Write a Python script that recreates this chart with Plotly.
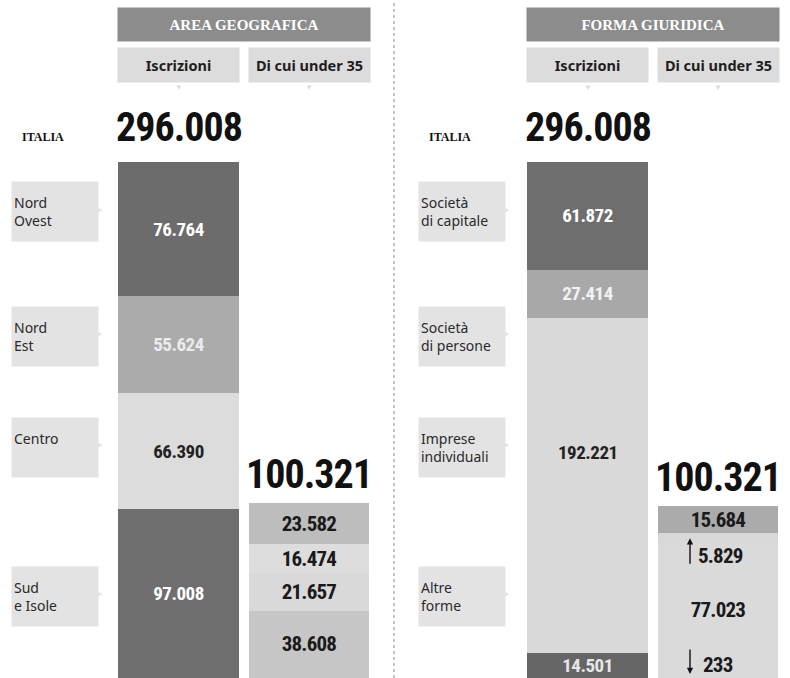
import plotly.graph_objects as go

# ---------------- data ----------------
columns = ["Iscrizioni", "Di cui under 35"]
italia_total = 296008
italia_u35 = 100321

panel_titles = ["AREA GEOGRAFICA", "FORMA GIURIDICA"]

region_labels = ["Nord<br>Ovest", "Nord<br>Est", "Centro<br> ", "Sud<br>e Isole"]
region_total = [76764, 55624, 66390, 97008]
region_u35 = [23582, 16474, 21657, 38608]

form_labels = ["Società<br>di capitale", "Società<br>di persone", "Imprese<br>individuali", "Altre<br>forme"]
form_total = [61872, 27414, 192221, 14501]
form_u35 = [15684, 5829, 77023, 233]

# ---------------- style ----------------
NUM_FONT = "Roboto Condensed, DejaVu Sans Condensed, Liberation Sans Narrow, sans-serif"
LBL_FONT = "Noto Sans, Open Sans, sans-serif"

W, H = 790, 678
bar_top_px = 162
ydom_top = (H - bar_top_px) / H

left_dom = [113.25 / W, 374.25 / W]
right_dom = [522.25 / W, 783.25 / W]

LABEL_BOX = "#e3e3e3"
SUB_BOX = "#dcdcdc"

panels = [
    dict(xaxis="x", dom=left_dom, labels=region_labels, total=region_total, u35=region_u35,
         main_colors=["#6c6c6c", "#ababab", "#dcdcdc", "#6e6e6e"],
         main_text=["#ffffff", "#ececec", "#222222", "#ffffff"],
         u35_colors=["#bdbdbd", "#dddddd", "#d9d9d9", "#c6c6c6"],
         label_x=11),
    dict(xaxis="x2", dom=right_dom, labels=form_labels, total=form_total, u35=form_u35,
         main_colors=["#6e6e6e", "#a8a8a8", "#d9d9d9", "#666666"],
         main_text=["#ffffff", "#f2f2f2", "#222222", "#e6e6e6"],
         u35_colors=["#ababab", "#d8d8d8", "#dadada", "#d8d8d8"],
         label_x=418),
]


def fmt(v):
    return f"{v:,}".replace(",", ".")


def tight(s, ls):
    return f"<span style='letter-spacing:{ls}px'>{s}</span>"


fig = go.Figure()
annotations = []

for p_i, p in enumerate(panels):
    xa = p["xaxis"]
    # main bar (stack bottom-up, so reverse order)
    for i in reversed(range(4)):
        v = p["total"][i]
        show_inside = not (p_i == 1 and i == 2)
        fig.add_trace(go.Bar(
            x=[columns[0]], y=[v], xaxis=xa, yaxis="y",
            marker=dict(color=p["main_colors"][i], line=dict(width=0)),
            text=[tight(fmt(v), -0.5) if show_inside else ""], textposition="inside",
            insidetextanchor="middle", textangle=0, constraintext="none",
            textfont=dict(family=NUM_FONT, size=19, color=p["main_text"][i], weight="bold"),
            showlegend=False, hoverinfo="skip"))
    # under 35 bar
    for i in reversed(range(4)):
        v = p["u35"][i]
        tiny = p_i == 1 and i in (1, 3)
        fig.add_trace(go.Bar(
            x=[columns[1]], y=[v], xaxis=xa, yaxis="y",
            marker=dict(color=p["u35_colors"][i], line=dict(width=0)),
            text=["" if tiny else tight(fmt(v), -0.8)], textposition="inside",
            insidetextanchor="middle", textangle=0, constraintext="none",
            textfont=dict(family=NUM_FONT, size=21, color="#1a1a1a", weight="bold"),
            showlegend=False, hoverinfo="skip"))

    # big totals
    annotations.append(dict(x=columns[0], y=italia_total, xref=xa, yref="y",
                            text=f"<b>{tight(fmt(italia_total), -1)}</b>", showarrow=False,
                            yanchor="bottom", yshift=9,
                            font=dict(family=NUM_FONT, size=40, color="#111111")))
    annotations.append(dict(x=columns[1], y=sum(p["u35"]), xref=xa, yref="y",
                            text=f"<b>{tight(fmt(italia_u35), -1)}</b>", showarrow=False,
                            yanchor="bottom", yshift=3,
                            font=dict(family=NUM_FONT, size=40, color="#111111")))

    # header box
    cx = (p["dom"][0] + p["dom"][1]) / 2
    annotations.append(dict(x=cx, y=1 - 24.5 / H, xref="paper", yref="paper",
                            xanchor="center", yanchor="middle",
                            text=f"<b>{panel_titles[p_i]}</b>", showarrow=False,
                            width=248, height=29, bgcolor="#8c8c8c", borderpad=2,
                            font=dict(family="Liberation Serif, DejaVu Serif, serif", size=15,
                                      color="#ffffff")))
    # sub-header boxes with small pointer below
    for c in columns:
        annotations.append(dict(x=c, y=1 - 65 / H, xref=xa, yref="paper",
                                xanchor="center", yanchor="middle",
                                text=f"<b>{c}</b>", showarrow=False,
                                width=117, height=30, bgcolor=SUB_BOX, borderpad=2,
                                font=dict(family=LBL_FONT, size=14.5, color="#1e1e1e")))
        annotations.append(dict(x=c, y=1 - 86 / H, xref=xa, yref="paper",
                                xanchor="center", yanchor="middle", text="▼", showarrow=False,
                                font=dict(size=8, color=SUB_BOX)))

    # ITALIA
    annotations.append(dict(x=(p["label_x"] + 9) / W, y=1 - 137 / H, xref="paper", yref="paper",
                            text="<b>ITALIA</b>", showarrow=False, xanchor="left", yanchor="middle",
                            font=dict(family="Liberation Serif, DejaVu Serif, serif", size=12,
                                      color="#111111")))

    # category label boxes with small pointer on the right
    slot_centers = [212, 336, 447, 596]
    for i, lab in enumerate(p["labels"]):
        annotations.append(dict(x=p["label_x"] / W, y=1 - slot_centers[i] / H,
                                xref="paper", yref="paper", xanchor="left", yanchor="middle",
                                text=lab, showarrow=False, align="left",
                                width=82, height=55, bgcolor=LABEL_BOX, borderpad=2,
                                font=dict(family=LBL_FONT, size=14, color="#2a2a2a")))
        annotations.append(dict(x=(p["label_x"] + 84) / W, y=1 - (slot_centers[i] - 3) / H,
                                xref="paper", yref="paper", xanchor="left", yanchor="middle",
                                text="▶", showarrow=False,
                                font=dict(size=7, color=LABEL_BOX)))

# 192.221 label placed near top of its segment
base_ind = form_total[3]
annotations.append(dict(x=columns[0], y=base_ind + form_total[2] / 2, xref="x2", yref="y",
                        text=f"<b>{tight(fmt(form_total[2]), -0.5)}</b>", showarrow=False, yshift=33,
                        font=dict(family=NUM_FONT, size=19, color="#222222")))

# tiny under-35 segments with arrows (right panel)
seg_bot_persone = form_u35[3] + form_u35[2]
annotations.append(dict(x=columns[1], y=seg_bot_persone + form_u35[1] / 2, xref="x2", yref="y",
                        text="", showarrow=True, arrowhead=2, arrowsize=0.9, arrowwidth=1.4,
                        arrowcolor="#111111", ax=0, ay=27, xshift=-28))
annotations.append(dict(x=columns[1], y=seg_bot_persone, xref="x2", yref="y",
                        text=f"<b>{tight(fmt(form_u35[1]), -0.8)}</b>", showarrow=False,
                        xshift=2, yshift=-13,
                        font=dict(family=NUM_FONT, size=21, color="#1a1a1a")))
annotations.append(dict(x=columns[1], y=0, xref="x2", yref="y",
                        text="", showarrow=True, arrowhead=2, arrowsize=0.9, arrowwidth=1.4,
                        arrowcolor="#111111", ax=0, ay=-26, xshift=-28, yshift=4))
annotations.append(dict(x=columns[1], y=0, xref="x2", yref="y",
                        text=f"<b>{tight(fmt(form_u35[3]), -0.8)}</b>", showarrow=False,
                        xshift=0, yshift=13,
                        font=dict(family=NUM_FONT, size=21, color="#1a1a1a")))

fig.update_layout(
    width=W, height=H, margin=dict(l=0, r=0, t=0, b=0),
    paper_bgcolor="#ffffff", plot_bgcolor="#ffffff",
    barmode="stack", bargap=0.08,
    xaxis=dict(domain=left_dom, type="category", categoryarray=columns,
               range=[-0.5, 1.5], visible=False, fixedrange=True),
    xaxis2=dict(domain=right_dom, type="category", categoryarray=columns,
                range=[-0.5, 1.5], visible=False, anchor="y", fixedrange=True),
    yaxis=dict(domain=[0, ydom_top], range=[0, italia_total], visible=False, fixedrange=True),
    annotations=annotations,
    shapes=[dict(type="line", xref="paper", yref="paper", x0=394 / W, x1=394 / W, y0=0, y1=1,
                 line=dict(color="#8a8a8a", width=1, dash="dot"))],
)

fig.write_html("out.html", config={"displayModeBar": False},
               post_script="document.body.style.margin='0';")
